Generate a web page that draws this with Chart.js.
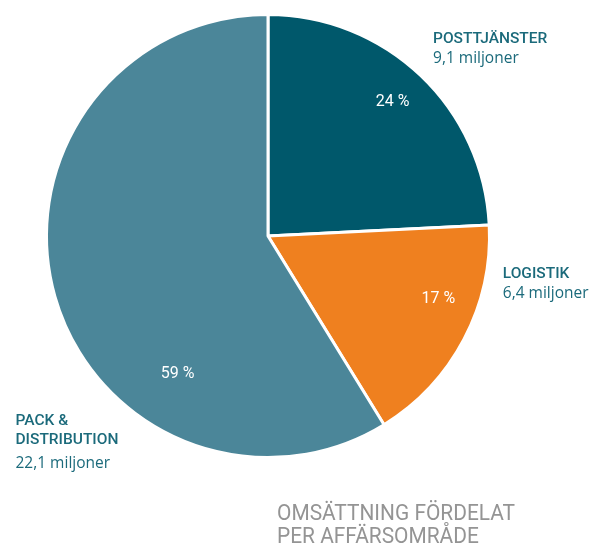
<!DOCTYPE html>
<html>
<head>
<meta charset="utf-8">
<script src="https://cdn.jsdelivr.net/npm/chart.js@4"></script>
<style>
html,body{margin:0;padding:0;background:#fff;}
#wrap{position:relative;width:591px;height:547px;}
</style>
</head>
<body>
<div id="wrap"><canvas id="c" width="591" height="547"></canvas></div>
<script>
const categories = ['POSTTJÄNSTER', 'LOGISTIK', 'PACK & DISTRIBUTION'];
const values = [9.1, 6.4, 22.1];
const percentLabels = ['24 %', '17 %', '59 %'];
const valueLabels = ['9,1 miljoner', '6,4 miljoner', '22,1 miljoner'];
const titleLines = ['OMSÄTTNING FÖRDELAT', 'PER AFFÄRSOMRÅDE'];

const colors = ['#00586b', '#ef801f', '#4b8699'];
const labelColor = '#1b6a7b';
const FONT = 'Roboto, "Liberation Sans", sans-serif';
const VFONT = '"Open Sans", Roboto, sans-serif';

// placement of labels relative to pie center (in units of radius)
const pctPlace = [
  {dAng: -0.01, rf: 0.825},
  {dAng: -0.13, rf: 0.82},
  {dAng: -0.715, rf: 0.745}
];
const outerPlace = [
  {x: 0.745, y: -0.87, lines: [0, 'v'], gaps: [20]},
  {x: 1.06, y: 0.19, lines: [0, 'v'], gaps: [20]},
  {x: -1.14, y: 0.855, lines: ['PACK &', 'DISTRIBUTION', 'v'], gaps: [19, 24]}
];

const labelPlugin = {
  id: 'labels',
  afterDatasetsDraw(chart) {
    const ctx = chart.ctx;
    const meta = chart.getDatasetMeta(0);
    const arc0 = meta.data[0];
    const cx = arc0.x, cy = arc0.y, r = arc0.outerRadius;
    ctx.save();
    // percentages
    ctx.fillStyle = '#ffffff';
    ctx.font = '400 16px ' + FONT;
    ctx.textAlign = 'center';
    ctx.textBaseline = 'middle';
    meta.data.forEach((a, i) => {
      const mid = (a.startAngle + a.endAngle) / 2 + pctPlace[i].dAng;
      const rr = r * pctPlace[i].rf;
      ctx.fillText(percentLabels[i], cx + Math.cos(mid) * rr, cy + Math.sin(mid) * rr);
    });
    // outer labels
    ctx.fillStyle = labelColor;
    ctx.textAlign = 'left';
    ctx.textBaseline = 'alphabetic';
    outerPlace.forEach((p, i) => {
      const x = cx + p.x * r;
      let y = cy + p.y * r;
      p.lines.forEach((ln, k) => {
        let txt;
        if (ln === 'v') { txt = valueLabels[i]; ctx.font = '500 15.5px ' + VFONT; }
        else { txt = (ln === 0) ? categories[i] : ln; ctx.font = '500 15.5px ' + FONT; }
        ctx.fillText(txt, x, y);
        y += p.gaps[k] || 0;
      });
    });
    // title
    ctx.fillStyle = '#949494';
    ctx.font = '400 22px ' + FONT;
    const tx = cx + 9;
    [0, 1].forEach(k => {
      ctx.save();
      ctx.translate(tx, cy + 284 + k * 23);
      ctx.scale(0.95, 1);
      ctx.fillText(titleLines[k], 0, 0);
      ctx.restore();
    });
    ctx.restore();
  }
};

new Chart(document.getElementById('c'), {
  type: 'pie',
  data: {
    labels: categories,
    datasets: [{
      data: values,
      backgroundColor: colors,
      borderColor: '#ffffff',
      borderWidth: 3,
      hoverOffset: 0
    }]
  },
  options: {
    responsive: false,
    animation: false,
    layout: {padding: {left: 45, right: 100, top: 13, bottom: 88}},
    plugins: {legend: {display: false}, tooltip: {enabled: false}}
  },
  plugins: [labelPlugin]
});
</script>
</body>
</html>
